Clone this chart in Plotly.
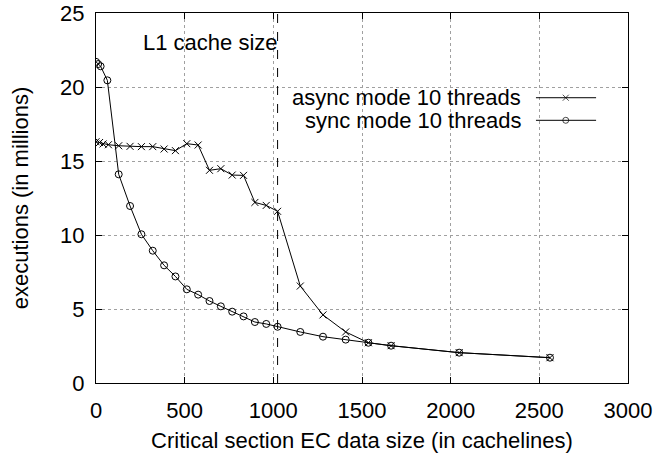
import plotly.graph_objects as go

# ---- data ----
async_x = [0, 20, 40, 70, 128, 192, 256, 320, 384, 448, 512, 576, 640, 704, 768, 832,
           896, 960, 1024, 1152, 1280, 1408, 1536, 1664, 2048, 2560]
async_y = [16.3, 16.25, 16.15, 16.1, 16.03, 15.99, 15.97, 15.97, 15.81, 15.7, 16.17, 16.08,
           14.37, 14.48, 14.05, 14.03, 12.2, 12.0, 11.6, 6.55, 4.6, 3.45, 2.72, 2.52, 2.05, 1.71]
sync_x = [0, 12, 26, 64, 128, 192, 256, 320, 384, 448, 512, 576, 640, 704, 768, 832,
          896, 960, 1024, 1152, 1280, 1408, 1536, 1664, 2048, 2560]
sync_y = [21.7, 21.55, 21.4, 20.45, 14.1, 11.96, 10.05, 8.94, 7.95, 7.2, 6.33, 5.97,
          5.54, 5.18, 4.82, 4.5, 4.12, 3.99, 3.8, 3.45, 3.13, 2.93, 2.72, 2.52, 2.05, 1.71]
l1_cache_x = 1024
series_names = ["async mode 10 threads", "sync mode 10 threads"]
x_ticks = [0, 500, 1000, 1500, 2000, 2500, 3000]
y_ticks = [0, 5, 10, 15, 20, 25]

FONT = "Liberation Sans, Arial, sans-serif"
FS = 22

fig = go.Figure()

# L1 cache size marker line
fig.add_trace(go.Scatter(x=[l1_cache_x, l1_cache_x], y=[0, 25], mode="lines",
                         line=dict(color="black", width=1, dash="dash"),
                         showlegend=False, hoverinfo="skip"))

fig.add_trace(go.Scatter(x=async_x, y=async_y, mode="lines+markers", name=series_names[0],
                         line=dict(color="black", width=1),
                         marker=dict(symbol="x-thin", size=7, line=dict(color="black", width=1)),
                         showlegend=False))
fig.add_trace(go.Scatter(x=sync_x, y=sync_y, mode="lines+markers", name=series_names[1],
                         line=dict(color="black", width=1),
                         marker=dict(symbol="circle-open", size=7, color="black",
                                     line=dict(color="black", width=1)),
                         showlegend=False))

# gnuplot-style key (text left, sample right) on a helper 0..1 axis
key_rows = [0.771, 0.710]
key_syms = ["x-thin", "circle-open"]
for row, sym, name in zip(key_rows, key_syms, series_names):
    fig.add_trace(go.Scatter(x=[0.827, 0.883, 0.940], y=[row, row, row], xaxis="x2", yaxis="y2",
                             mode="lines+markers", line=dict(color="black", width=1),
                             marker=dict(symbol=sym, size=[0, 6, 0], color="black",
                                         line=dict(color="black", width=1)),
                             showlegend=False, hoverinfo="skip"))
    fig.add_annotation(x=0.803, y=row, xref="x2", yref="y2", text=name, showarrow=False,
                       xanchor="right", yanchor="middle", font=dict(family=FONT, size=FS, color="black"))

fig.add_annotation(x=l1_cache_x, y=23.0, xref="x", yref="y", text="L1 cache size", showarrow=False,
                   xanchor="right", yanchor="middle", xshift=2,
                   font=dict(family=FONT, size=FS, color="black"))

axis_common = dict(showline=True, linecolor="black", linewidth=1, mirror="ticks",
                   ticks="inside", ticklen=6, tickcolor="black", tickwidth=1,
                   showgrid=True, gridcolor="#a0a0a0", griddash="dot", gridwidth=1,
                   zeroline=False, tickfont=dict(family=FONT, size=FS, color="black"),
                   automargin=False, ticklabeloverflow="allow")

fig.update_layout(
    width=658, height=457,
    margin=dict(l=96, r=30, t=13, b=74),
    paper_bgcolor="white", plot_bgcolor="white",
    font=dict(family=FONT, size=FS, color="black"),
    xaxis=dict(range=[0, 3000], tickvals=x_ticks, **axis_common, ticklabelstandoff=8,
               title=dict(text="Critical section EC data size (in cachelines)",
                          font=dict(family=FONT, size=FS, color="black"), standoff=10)),
    yaxis=dict(range=[0, 25], tickvals=y_ticks, **axis_common, ticklabelstandoff=6,
               title=dict(text="executions (in millions)",
                          font=dict(family=FONT, size=FS, color="black"), standoff=25)),
    xaxis2=dict(range=[0, 1], overlaying="x", visible=False, fixedrange=True),
    yaxis2=dict(range=[0, 1], overlaying="y", visible=False, fixedrange=True),
    showlegend=False,
)

fig.write_html("out.html", config={"displayModeBar": False},
               post_script="document.body.style.margin='0';")
